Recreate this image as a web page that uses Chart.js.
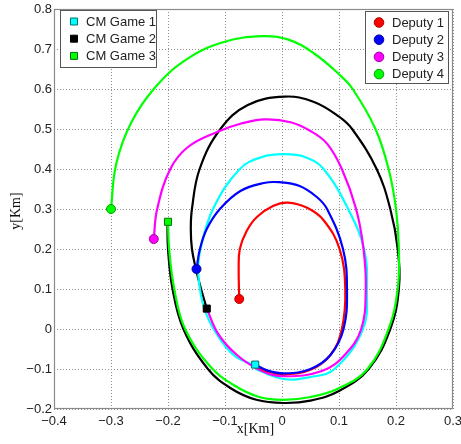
<!DOCTYPE html>
<html>
<head>
<meta charset="utf-8">
<script src="https://cdn.jsdelivr.net/npm/chart.js@4"></script>
<style>
  html, body { margin: 0; padding: 0; background: #fff; }
  canvas { display: block; }
</style>
</head>
<body>
<canvas id="chart" width="461" height="444"></canvas>
<script>
// trajectories, [x, y] in Km
var deputy1Path = [[-0.075, 0.075], [-0.076, 0.15], [-0.074, 0.2], [-0.062, 0.245], [-0.044, 0.28],
  [-0.015, 0.308], [0.01, 0.316], [0.044, 0.303], [0.073, 0.272], [0.101, 0.2], [0.111, 0.1],
  [0.105, 0.0], [0.085, -0.065], [0.05, -0.102], [0.005, -0.113], [-0.025, -0.106], [-0.047, -0.092]];
var deputy2Path = [[-0.15, 0.15], [-0.144, 0.2], [-0.132, 0.25], [-0.109, 0.3], [-0.073, 0.345],
  [-0.032, 0.365], [-0.005, 0.367], [0.03, 0.358], [0.061, 0.33], [0.079, 0.3], [0.107, 0.2],
  [0.114, 0.1], [0.108, 0.0], [0.085, -0.065], [0.05, -0.1], [0.005, -0.111], [-0.025, -0.104],
  [-0.047, -0.089]];
var deputy3Path = [[-0.225, 0.225], [-0.219, 0.3], [-0.196, 0.4], [-0.165, 0.455], [-0.114, 0.4925],
  [-0.073, 0.513], [-0.03, 0.524], [0.015, 0.517], [0.05, 0.495], [0.079, 0.4635], [0.105, 0.4],
  [0.13, 0.3], [0.143, 0.2], [0.147, 0.1], [0.139, 0.0], [0.11, -0.065], [0.07, -0.105],
  [0.003, -0.118], [-0.038, -0.103], [-0.079, -0.065], [-0.112, -0.012], [-0.132, 0.051]];
var deputy4Path = [[-0.3, 0.3], [-0.291, 0.412], [-0.2645, 0.516], [-0.222, 0.605], [-0.1675, 0.674],
  [-0.1036, 0.717], [-0.035, 0.732], [0.01, 0.724], [0.055, 0.69], [0.1, 0.637], [0.124, 0.6],
  [0.164, 0.5], [0.187, 0.4], [0.2, 0.3], [0.205, 0.2], [0.203, 0.1], [0.187, 0.0], [0.15, -0.1],
  [0.1, -0.148], [0.05, -0.17], [0.003, -0.177], [-0.04, -0.17], [-0.085, -0.14], [-0.125, -0.095],
  [-0.17, 0.0], [-0.189, 0.1], [-0.198, 0.2], [-0.2, 0.268]];
var cmGame1Path = [[-0.047, -0.092], [-0.085, -0.065], [-0.12, 0.0], [-0.136, 0.05], [-0.144, 0.1],
  [-0.147, 0.15], [-0.143, 0.2], [-0.121, 0.3], [-0.074, 0.4], [-0.035, 0.43], [0.003, 0.437],
  [0.04, 0.43], [0.073, 0.4], [0.116, 0.3], [0.144, 0.2], [0.149, 0.1], [0.142, 0.0], [0.092, -0.1],
  [0.05, -0.12], [0.003, -0.125], [-0.047, -0.1]];
var cmGame2Path = [[-0.132, 0.051], [-0.142, 0.1], [-0.151, 0.15], [-0.158, 0.2], [-0.16, 0.25],
  [-0.158, 0.3], [-0.1445, 0.4], [-0.108, 0.5], [-0.06, 0.56], [0.005, 0.581], [0.055, 0.568],
  [0.1, 0.531], [0.123, 0.5], [0.166, 0.4], [0.19, 0.3], [0.203, 0.2], [0.205, 0.1], [0.19, 0.0],
  [0.152, -0.1], [0.1, -0.155], [0.05, -0.179], [0.003, -0.185], [-0.045, -0.177], [-0.09, -0.148],
  [-0.13, -0.1], [-0.173, 0.0], [-0.192, 0.1], [-0.2, 0.2], [-0.201, 0.268]];

// start points of deputies (circles) and CM positions (squares)
var deputyStarts = [[-0.075, 0.075], [-0.15, 0.15], [-0.225, 0.225], [-0.3, 0.3]];
var cmMarks = [[-0.047, -0.089], [-0.132, 0.051], [-0.2, 0.268]];

var deputyLabels = ["Deputy 1", "Deputy 2", "Deputy 3", "Deputy 4"];
var cmLabels = ["CM Game 1", "CM Game 2", "CM Game 3"];
var deputyColors = ["#ff0000", "#0000ff", "#ff00ff", "#00ff00"];
var deputyEdges = ["#b00000", "#0000a0", "#a000a0", "#00a000"];
var cmColors = ["#00ffff", "#000000", "#00ff00"];
var cmEdges = ["#007070", "#000000", "#007000"];

var xTicks = [-0.4, -0.3, -0.2, -0.1, 0, 0.1, 0.2, 0.3];
var yTicks = [-0.2, -0.1, 0, 0.1, 0.2, 0.3, 0.4, 0.5, 0.6, 0.7, 0.8];

function toXY(list) {
  return list.map(function (p) { return {x: p[0], y: p[1]}; });
}

function fmtTick(v) {
  var r = Math.round(v * 10) / 10;
  if (r === 0) return "0";
  return (r < 0 ? "\u2212" : "") + Math.abs(r).toFixed(1);
}

function lineSet(path, color, order) {
  return {
    data: toXY(path), showLine: true, borderColor: color, borderWidth: 2.2,
    pointRadius: 0, tension: 0.4, fill: false, order: order
  };
}

function markSet(p, fill, edge, style, radius) {
  return {
    data: toXY([p]), showLine: false, pointStyle: style, pointRadius: radius,
    backgroundColor: fill, borderColor: edge, borderWidth: 1, order: 0
  };
}

var datasets = [
  lineSet(cmGame2Path, "#000000", 10),
  lineSet(cmGame1Path, "#00ffff", 9),
  lineSet(deputy4Path, "#00ff00", 8),
  lineSet(deputy3Path, "#ff00ff", 7),
  lineSet(deputy1Path, "#ff0000", 6),
  lineSet(deputy2Path, "#0000ff", 5)
];
deputyStarts.forEach(function (p, i) {
  datasets.push(markSet(p, deputyColors[i], deputyEdges[i], "circle", 4.5));
});
cmMarks.forEach(function (p, i) {
  datasets.push(markSet(p, cmColors[i], cmEdges[i], "rect", 5));
});

var FONT = "'Liberation Sans', Arial, sans-serif";
var SERIF = "'Liberation Serif', 'Times New Roman', serif";

// dotted grid, box round the plot, axis titles and the two legends
var decorPlugin = {
  id: "decor",
  beforeDatasetsDraw: function (chart) {
    var a = chart.chartArea, ctx = chart.ctx;
    var sx = chart.scales.x, sy = chart.scales.y;
    ctx.save();
    ctx.strokeStyle = "#8f8f8f";
    ctx.lineWidth = 1;
    ctx.setLineDash([1, 2]);
    ctx.beginPath();
    xTicks.forEach(function (v) {
      var px = Math.round(sx.getPixelForValue(v)) + 0.5;
      ctx.moveTo(px, a.top);
      ctx.lineTo(px, a.bottom);
    });
    yTicks.forEach(function (v) {
      var py = Math.round(sy.getPixelForValue(v)) + 0.5;
      ctx.moveTo(a.left, py);
      ctx.lineTo(a.right, py);
    });
    ctx.stroke();
    ctx.setLineDash([]);
    ctx.strokeStyle = "#8a8a8a";
    ctx.lineWidth = 1.2;
    ctx.strokeRect(a.left + 0.5, a.top + 0.5, a.right - a.left - 1, a.bottom - a.top - 1);
    ctx.restore();
  },
  afterDraw: function (chart) {
    var a = chart.chartArea, ctx = chart.ctx;
    ctx.save();
    ctx.fillStyle = "#111";
    ctx.font = "14px " + SERIF;
    ctx.textAlign = "center";
    ctx.textBaseline = "middle";
    ctx.fillText("x[Km]", (a.left + a.right) / 2 + 2, 429);
    ctx.translate(16, (a.top + a.bottom) / 2 + 2);
    ctx.rotate(-Math.PI / 2);
    ctx.fillText("y[Km]", 0, 0);
    ctx.restore();

    drawLegend(ctx, 60.5, 10.5, 96, 57, cmLabels, cmColors, cmEdges, "rect", 74, 86, 21.5, 17.2);
    drawLegend(ctx, 365.5, 11.5, 83, 72, deputyLabels, deputyColors, deputyEdges, "circle", 379, 392, 22.5, 17.2);
  }
};

function drawLegend(ctx, x, y, w, h, labels, fills, edges, style, mx, tx, firstY, step) {
  ctx.save();
  ctx.fillStyle = "#fff";
  ctx.fillRect(x, y, w, h);
  ctx.strokeStyle = "#555";
  ctx.lineWidth = 1;
  ctx.strokeRect(x, y, w, h);
  ctx.font = "13px " + FONT;
  ctx.textBaseline = "middle";
  ctx.textAlign = "left";
  labels.forEach(function (lab, i) {
    var cy = firstY + i * step;
    ctx.fillStyle = fills[i];
    ctx.strokeStyle = edges[i];
    ctx.lineWidth = 1;
    ctx.beginPath();
    if (style === "circle") {
      ctx.arc(mx, cy, 4.8, 0, Math.PI * 2);
    } else {
      ctx.rect(mx - 3.5, cy - 3.5, 7, 7);
    }
    ctx.fill();
    ctx.stroke();
    ctx.fillStyle = "#222";
    ctx.fillText(lab, tx, cy + 0.5);
  });
  ctx.restore();
}

new Chart(document.getElementById("chart"), {
  type: "scatter",
  data: { datasets: datasets },
  plugins: [decorPlugin],
  options: {
    responsive: false,
    animation: false,
    devicePixelRatio: 1,
    layout: { padding: { top: 9, right: 8, left: 0, bottom: 0 } },
    plugins: { legend: { display: false }, tooltip: { enabled: false } },
    scales: {
      x: {
        type: "linear", min: xTicks[0], max: xTicks[xTicks.length - 1],
        afterBuildTicks: function (s) { s.ticks = xTicks.map(function (v) { return {value: v}; }); },
        afterFit: function (s) { s.height = 35; s.paddingLeft = 0; s.paddingRight = 0; },
        grid: { display: false, drawTicks: false },
        border: { display: false },
        ticks: { padding: 5, maxRotation: 0, autoSkip: false, color: "#222",
                 font: { family: FONT, size: 13 }, callback: fmtTick }
      },
      y: {
        type: "linear", min: yTicks[0], max: yTicks[yTicks.length - 1],
        afterBuildTicks: function (s) { s.ticks = yTicks.map(function (v) { return {value: v}; }); },
        afterFit: function (s) { s.width = 54; s.paddingTop = 0; s.paddingBottom = 0; },
        grid: { display: false, drawTicks: false },
        border: { display: false },
        ticks: { padding: 2, autoSkip: false, color: "#222",
                 font: { family: FONT, size: 13 }, callback: fmtTick }
      }
    }
  }
});
</script>
</body>
</html>
